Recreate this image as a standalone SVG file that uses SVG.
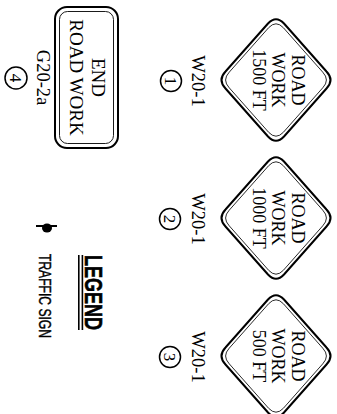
<svg xmlns="http://www.w3.org/2000/svg" xmlns:xlink="http://www.w3.org/1999/xlink" width="337" height="414" viewBox="0 0 337 414">
<style>
.s{font-family:"Liberation Serif","Times New Roman",serif;fill:#000}
.a{font-family:"Liberation Sans",Arial,sans-serif;fill:#000}
.o{fill:#fff;stroke:#000;stroke-width:2}
.i{fill:none;stroke:#000;stroke-width:0.9}
.c{fill:#fff;stroke:#000;stroke-width:1.5}
</style>
<defs>
<path id="dia" d="M -8,-56.5 Q 0,-65 8,-56.5 L 50.5,-8.5 Q 58.5,0 50.5,8.5 L 8,56.5 Q 0,65 -8,56.5 L -50.5,8.5 Q -58.5,0 -50.5,-8.5 Z"/>
</defs>
<rect width="337" height="414" fill="#fff"/>
<g id="sign1">
<g transform="translate(276,80)"><use xlink:href="#dia" class="o"/><use xlink:href="#dia" class="i" transform="scale(0.925)"/></g>
<text class="s" font-size="18" text-anchor="middle" transform="translate(291.5,80) rotate(90)">ROAD</text>
<text class="s" font-size="18" text-anchor="middle" transform="translate(272,80) rotate(90)">WORK</text>
<text class="s" font-size="18" text-anchor="middle" transform="translate(252.5,80) rotate(90)">1500 FT</text>
<text class="s" font-size="18.5" text-anchor="middle" transform="translate(192,81) rotate(90)">W20-1</text>
<circle class="c" cx="171" cy="81" r="10.5"/>
<text class="s" font-size="17" text-anchor="middle" transform="translate(165.3,81) rotate(90)">1</text>
</g>
<g id="sign2">
<g transform="translate(276,218)"><use xlink:href="#dia" class="o"/><use xlink:href="#dia" class="i" transform="scale(0.925)"/></g>
<text class="s" font-size="18" text-anchor="middle" transform="translate(291.5,218) rotate(90)">ROAD</text>
<text class="s" font-size="18" text-anchor="middle" transform="translate(272,218) rotate(90)">WORK</text>
<text class="s" font-size="18" text-anchor="middle" transform="translate(252.5,218) rotate(90)">1000 FT</text>
<text class="s" font-size="18.5" text-anchor="middle" transform="translate(192,219) rotate(90)">W20-1</text>
<circle class="c" cx="170" cy="219" r="10.5"/>
<text class="s" font-size="17" text-anchor="middle" transform="translate(164.3,219) rotate(90)">2</text>
</g>
<g id="sign3">
<g transform="translate(276,356)"><use xlink:href="#dia" class="o"/><use xlink:href="#dia" class="i" transform="scale(0.925)"/></g>
<text class="s" font-size="18" text-anchor="middle" transform="translate(291.5,356) rotate(90)">ROAD</text>
<text class="s" font-size="18" text-anchor="middle" transform="translate(272,356) rotate(90)">WORK</text>
<text class="s" font-size="18" text-anchor="middle" transform="translate(252.5,356) rotate(90)">500 FT</text>
<text class="s" font-size="18.5" text-anchor="middle" transform="translate(192,357) rotate(90)">W20-1</text>
<circle class="c" cx="170" cy="357" r="10.5"/>
<text class="s" font-size="17" text-anchor="middle" transform="translate(164.3,357) rotate(90)">3</text>
</g>
<g id="sign4">
<rect class="o" x="55" y="7" width="63" height="141" rx="12"/>
<rect class="i" x="59.5" y="11.5" width="54" height="132" rx="8"/>
<text class="s" font-size="19" text-anchor="middle" transform="translate(91.5,77.5) rotate(90)">END</text>
<text class="s" font-size="19" text-anchor="middle" transform="translate(69.5,77.5) rotate(90)">ROAD WORK</text>
<text class="s" font-size="18.5" text-anchor="middle" transform="translate(37,77.5) rotate(90)">G20-2a</text>
<circle class="c" cx="16" cy="78" r="11"/>
<text class="s" font-size="17" text-anchor="middle" transform="translate(10.3,78) rotate(90)">4</text>
</g>
<g id="legend">
<text class="a" font-size="23" font-weight="bold" textLength="75" lengthAdjust="spacingAndGlyphs" stroke="#000" stroke-width="0.6" transform="translate(85,255) rotate(90)">LEGEND</text>
<line x1="78.8" y1="255" x2="78.8" y2="330" stroke="#000" stroke-width="1.6"/>
<line x1="82.4" y1="255" x2="82.4" y2="330" stroke="#000" stroke-width="1.6"/>
<line x1="36" y1="226" x2="57" y2="226" stroke="#000" stroke-width="2"/>
<ellipse cx="47" cy="228" rx="5" ry="4.5" fill="#000"/>
<text class="a" font-size="17" textLength="84" lengthAdjust="spacingAndGlyphs" stroke="#000" stroke-width="0.4" transform="translate(39,254) rotate(90)">TRAFFIC  SIGN</text>
</g>
<g id="connectors"/>
</svg>
